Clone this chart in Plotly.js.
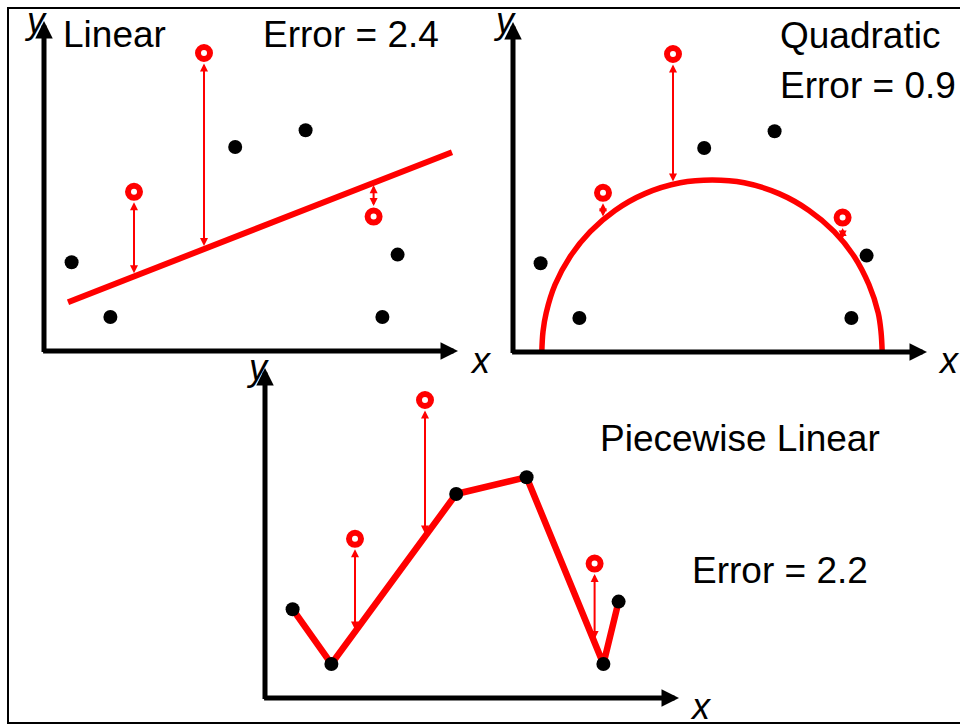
<!DOCTYPE html>
<html>
<head>
<meta charset="utf-8">
<script src="https://cdn.plot.ly/plotly-3.0.1.min.js"></script>
<style>html,body{margin:0;padding:0;background:#fff;}#chart{width:960px;height:726px;}</style>
</head>
<body>
<div id="chart"></div>
<script>
// ---- Data (diagram units) ----
const pointsX = [0.69, 1.66, 4.78, 6.54, 8.46, 8.84];
const pointsY = [2.22, 0.85, 5.10, 5.52, 0.85, 2.41];

const outlierX = [2.25, 4.00, 8.24];
const outlierY = [3.98, 7.45, 3.36];

const linearX = [0.60, 10.20];
const linearY = [1.22, 4.97];
const linearAtOutlier = [1.87, 2.55, 4.22];

const quadX = [0.72, 0.75, 0.83, 1.05, 1.43, 1.93, 2.55, 3.30, 4.18, 4.98, 5.78, 6.65, 7.40, 8.03, 8.53, 8.90, 9.13, 9.20, 9.23];
const quadY = [0.00, 0.51, 0.98, 1.68, 2.39, 3.01, 3.54, 3.96, 4.23, 4.30, 4.23, 3.96, 3.54, 3.01, 2.39, 1.68, 0.98, 0.51, 0.00];
const quadAtOutlier = [3.31, 4.19, 2.76];

const pieceAtOutlier = [1.64, 4.04, 1.40];

const panelTitles = ["Linear", "Quadratic", "Piecewise Linear"];
const errorLabels = ["Error = 2.4", "Error = 0.9", "Error = 2.2"];

// ---- Layout helpers ----
const W = 960, H = 726;
const px = x => x / W;
const py = y => 1 - y / H;
const RED = "#ff0000";
const FONT = "Liberation Sans, Arial, Helvetica, sans-serif";

const XMAX = 10.35, YMAX = 8.25;
const panels = [
  {xa: "x",  ya: "y",  ox: 44,  oy: 351},
  {xa: "x2", ya: "y2", ox: 513, oy: 352},
  {xa: "x3", ya: "y3", ox: 265, oy: 698}
];

const traces = [];
const annotations = [];
const layout = {
  width: W, height: H,
  margin: {l: 0, r: 0, t: 0, b: 0},
  paper_bgcolor: "#fff", plot_bgcolor: "rgba(0,0,0,0)",
  showlegend: false,
  shapes: [{
    type: "rect", xref: "paper", yref: "paper",
    x0: px(8), x1: 1.05, y0: py(723), y1: py(8),
    line: {color: "#000", width: 2}
  }]
};

panels.forEach((p, i) => {
  const sfx = i === 0 ? "" : String(i + 1);
  const rangeW = 414, rangeH = 338;
  layout["xaxis" + sfx] = {
    domain: [px(p.ox), px(p.ox + rangeW)], range: [0, rangeW / 40],
    visible: false, fixedrange: true, anchor: p.ya
  };
  layout["yaxis" + sfx] = {
    domain: [py(p.oy), py(p.oy - rangeH)], range: [0, rangeH / 40],
    visible: false, fixedrange: true, anchor: p.xa
  };
  // Axis arrows
  annotations.push({
    xref: p.xa, yref: p.ya, axref: p.xa, ayref: p.ya,
    x: XMAX, y: 0, ax: -0.06, ay: 0, text: "", showarrow: true,
    arrowhead: 2, arrowsize: 0.7, arrowwidth: 5, arrowcolor: "#000"
  });
  annotations.push({
    xref: p.xa, yref: p.ya, axref: p.xa, ayref: p.ya,
    x: 0, y: YMAX, ax: 0, ay: -0.06, text: "", showarrow: true,
    arrowhead: 2, arrowsize: 0.7, arrowwidth: 5, arrowcolor: "#000"
  });
});

// Fitted curves
traces.push({x: linearX, y: linearY, xaxis: "x", yaxis: "y", mode: "lines",
  line: {color: RED, width: 6}, hoverinfo: "skip"});
traces.push({x: quadX, y: quadY, xaxis: "x2", yaxis: "y2", mode: "lines",
  line: {color: RED, width: 5.5, shape: "spline", smoothing: 1}, hoverinfo: "skip"});
traces.push({x: pointsX, y: pointsY, xaxis: "x3", yaxis: "y3", mode: "lines",
  line: {color: RED, width: 6.5}, hoverinfo: "skip"});

// Points per panel
const fits = [linearAtOutlier, quadAtOutlier, pieceAtOutlier];
panels.forEach((p, i) => {
  traces.push({x: pointsX, y: pointsY, xaxis: p.xa, yaxis: p.ya, mode: "markers",
    marker: {color: "#000", size: 14}, hoverinfo: "skip"});
  traces.push({x: outlierX, y: outlierY, xaxis: p.xa, yaxis: p.ya, mode: "markers",
    marker: {color: "#fff", size: 12, line: {color: RED, width: 6}}, hoverinfo: "skip"});
  outlierX.forEach((ox, k) => {
    annotations.push({
      xref: p.xa, yref: p.ya, axref: p.xa, ayref: p.ya,
      x: ox, y: fits[i][k], ax: ox, ay: outlierY[k],
      text: "", showarrow: true, arrowside: "end+start",
      arrowhead: 2, startarrowhead: 2, arrowsize: 0.8, startarrowsize: 0.8,
      arrowwidth: 2, arrowcolor: RED, standoff: 3, startstandoff: 9
    });
  });
});

// Texts
function label(text, cx, cy, size, italic) {
  annotations.push({
    xref: "paper", yref: "paper", x: px(cx), y: py(cy),
    xanchor: "center", yanchor: "middle", showarrow: false, text: text,
    font: {family: FONT, size: size, color: "#000", style: italic ? "italic" : "normal"}
  });
}
label(panelTitles[0], 114.5, 34.5, 37);
label(errorLabels[0], 350.5, 34.5, 37);
label(panelTitles[1], 860, 35.5, 37);
label(errorLabels[1], 868, 86, 37);
label(panelTitles[2], 740, 438, 37);
label(errorLabels[2], 779.5, 570.5, 37);

label("y", 35, 20.5, 36, true);
label("x", 481, 360.5, 36, true);
label("y", 504, 20.5, 36, true);
label("x", 949, 360.5, 36, true);
label("y", 257, 367.5, 36, true);
label("x", 701, 706.5, 36, true);

layout.annotations = annotations;

Plotly.newPlot("chart", traces, layout, {staticPlot: true, displayModeBar: false});
</script>
</body>
</html>
